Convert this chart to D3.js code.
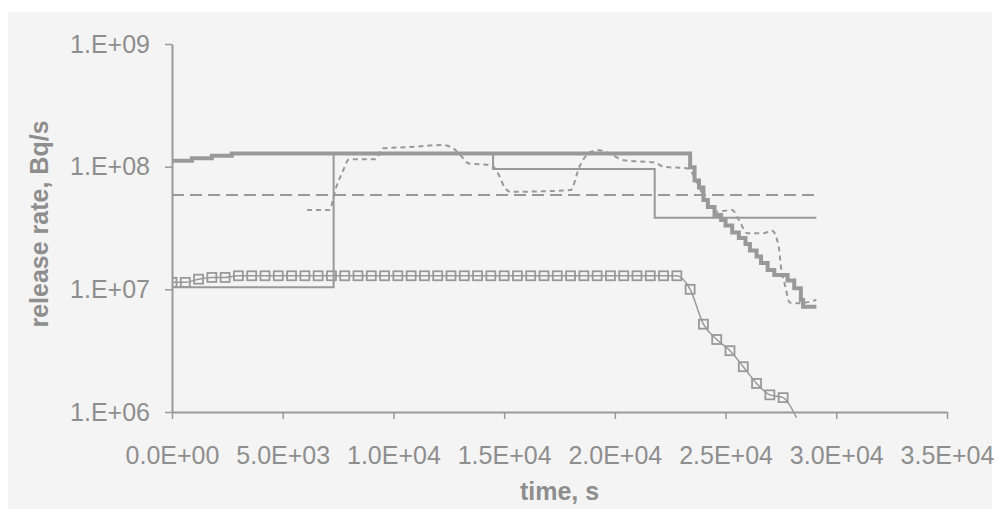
<!DOCTYPE html>
<html>
<head>
<meta charset="utf-8">
<script src="https://cdn.jsdelivr.net/npm/d3@7"></script>
<style>
  body { margin: 0; background: #ffffff; }
  #chart text { font-family: "Liberation Sans", Arial, sans-serif; fill: #8e8e8e; }
</style>
</head>
<body>
<div id="chart"></div>
<script>
// *** data (time in s, rate in Bq/s)
var xTicks = [0, 5000, 10000, 15000, 20000, 25000, 30000, 35000];
var xTickLabels = ["0.0E+00", "5.0E+03", "1.0E+04", "1.5E+04", "2.0E+04", "2.5E+04", "3.0E+04", "3.5E+04"];
var yTicks = [1e6, 1e7, 1e8, 1e9];
var yTickLabels = ["1.E+06", "1.E+07", "1.E+08", "1.E+09"];

// thick stair line
var thickTime = [0, 900, 1800, 2700, 23400, 23600, 23800, 24000, 24200, 24500, 24800, 25000, 25300, 25600,
  25900, 26100, 26400, 26600, 26900, 27200, 27800, 28100, 28400, 28500, 29100];
var thickRate = [1.12e8, 1.17e8, 1.23e8, 1.28e8, 9.9e7, 7.7e7, 6.76e7, 5.35e7, 4.69e7, 4.03e7, 3.67e7, 3.31e7, 2.90e7, 2.62e7,
  2.34e7, 2.07e7, 1.85e7, 1.64e7, 1.44e7, 1.31e7, 1.18e7, 1.02e7, 8.2e6, 7.2e6, 7.2e6];

// thin step line
var stepTime = [0, 7300, 14500, 21800, 29100];
var stepRate = [1.04e7, 1.28e8, 9.55e7, 3.83e7, 3.83e7];

// constant long-dash line
var constTime = [0, 29100];
var constRate = [5.87e7, 5.87e7];

// short-dash curve
var dashTime = [6100, 7100, 7400, 7700, 8000, 9200, 9500, 10600, 12200, 12700, 13100, 13400, 14400, 14800, 15000,
  15300, 18000, 18400, 18900, 19300, 19900, 20400, 21800, 22200, 23300, 23700, 24100, 24500, 25300, 25600,
  26000, 26700, 27100, 27400, 27500, 27700, 27900, 28300, 29100];
var dashRate = [4.43e7, 4.43e7, 6.69e7, 9.04e7, 1.15e8, 1.15e8, 1.41e8, 1.44e8, 1.50e8, 1.41e8, 1.20e8, 1.06e8, 1.03e8, 8.28e7, 6.86e7,
  6.24e7, 6.44e7, 9.98e7, 1.32e8, 1.36e8, 1.24e8, 1.13e8, 1.08e8, 9.98e7, 9.68e7, 7.48e7, 5.35e7, 4.29e7, 4.43e7, 3.67e7,
  2.86e7, 2.86e7, 3.01e7, 2.22e7, 1.53e7, 1.05e7, 7.8e6, 7.69e6, 8.2e6];

// square marker series
var sqTime = [0, 600, 1200, 1800, 2400, 3000, 3600, 4200, 4800, 5400, 6000, 6600, 7200, 7800, 8400, 9000,
  9600, 10200, 10800, 11400, 12000, 12600, 13200, 13800, 14400, 15000, 15600, 16200, 16800, 17400, 18000,
  18600, 19200, 19800, 20400, 21000, 21600, 22200, 22800, 23400, 24000, 24600, 25200, 25800, 26400, 27000,
  27600, 28200];
var sqRate = [1.14e7, 1.14e7, 1.21e7, 1.25e7, 1.25e7, 1.29e7, 1.29e7, 1.29e7, 1.29e7, 1.29e7, 1.29e7, 1.29e7, 1.29e7, 1.29e7, 1.29e7, 1.29e7,
  1.29e7, 1.29e7, 1.29e7, 1.29e7, 1.29e7, 1.29e7, 1.29e7, 1.29e7, 1.29e7, 1.29e7, 1.29e7, 1.29e7, 1.29e7, 1.29e7, 1.29e7,
  1.29e7, 1.29e7, 1.29e7, 1.29e7, 1.29e7, 1.29e7, 1.29e7, 1.29e7, 1.0e7, 5.2e6, 3.9e6, 3.16e6, 2.34e6, 1.71e6, 1.38e6,
  1.31e6, 9.0e5];

function zip(t, v) { return t.map(function(d, i) { return { t: d, v: v[i] }; }); }

// *** Set up svg
var margin = { top: 44, right: 53, bottom: 107, left: 172 };
var width = 1000 - margin.left - margin.right,
    height = 519 - margin.top - margin.bottom;
var grey = "#999999";

var root = d3.select("#chart").append("svg")
  .attr("width", 1000)
  .attr("height", 519);

// chart area background
root.append("rect")
  .attr("x", 8).attr("y", 12)
  .attr("width", 984).attr("height", 497)
  .attr("fill", "#f4f4f4");

var svg = root.append("g")
  .attr("transform", "translate(" + margin.left + "," + margin.top + ")");

var x = d3.scaleLinear().domain([0, 35000]).range([0, width]);
var y = d3.scaleLog().domain([1e6, 1e9]).range([height, 0]);

svg.append("defs").append("clipPath")
  .attr("id", "clip")
  .append("rect")
  .attr("x", 0).attr("y", -10)
  .attr("width", width).attr("height", height + 16);

// x axis
var xAxis = svg.append("g")
  .attr("transform", "translate(0," + height + ")")
  .call(d3.axisBottom(x).tickValues(xTicks).tickFormat(function(d, i) { return xTickLabels[i]; })
    .tickSize(7).tickSizeOuter(0).tickPadding(27));
// y axis
var yAxis = svg.append("g")
  .call(d3.axisLeft(y).tickValues(yTicks).tickFormat(function(d, i) { return yTickLabels[i]; })
    .tickSize(7).tickSizeOuter(0).tickPadding(15));

[xAxis, yAxis].forEach(function(a) {
  a.select(".domain").attr("stroke", grey).attr("stroke-width", 2);
  a.selectAll(".tick line").attr("stroke", grey).attr("stroke-width", 1.5);
  a.selectAll(".tick text").style("font-size", "25px").attr("fill", "#8e8e8e");
});

// axis titles
svg.append("text")
  .attr("x", width / 2)
  .attr("y", height + 88)
  .style("text-anchor", "middle")
  .style("font-size", "25px")
  .style("font-weight", "bold")
  .text("time, s");

svg.append("text")
  .attr("transform", "rotate(-90)")
  .attr("x", -(224 - margin.top))
  .attr("y", 48 - margin.left)
  .style("text-anchor", "middle")
  .style("font-size", "25px")
  .style("font-weight", "bold")
  .text("release rate, Bq/s");

var plot = svg.append("g").attr("clip-path", "url(#clip)");

var stepLine = d3.line().x(function(d) { return x(d.t); }).y(function(d) { return y(d.v); }).curve(d3.curveStepAfter);
var smoothLine = d3.line().x(function(d) { return x(d.t); }).y(function(d) { return y(d.v); }).curve(d3.curveMonotoneX);
var straight = d3.line().x(function(d) { return x(d.t); }).y(function(d) { return y(d.v); });

plot.append("path")
  .datum(zip(constTime, constRate))
  .attr("d", straight)
  .attr("fill", "none").attr("stroke", grey).attr("stroke-width", 2)
  .attr("stroke-dasharray", "12,6");

plot.append("path")
  .datum(zip(stepTime, stepRate))
  .attr("d", stepLine)
  .attr("fill", "none").attr("stroke", grey).attr("stroke-width", 2);

plot.append("path")
  .datum(zip(dashTime, dashRate))
  .attr("d", smoothLine)
  .attr("fill", "none").attr("stroke", grey).attr("stroke-width", 2)
  .attr("stroke-dasharray", "5,4");

var sqData = zip(sqTime, sqRate);
plot.append("path")
  .datum(sqData)
  .attr("d", smoothLine)
  .attr("fill", "none").attr("stroke", grey).attr("stroke-width", 1.5);

plot.selectAll(".sq")
  .data(sqData.filter(function(d) { return d.v >= 1e6; }))
  .enter().append("rect")
  .attr("class", "sq")
  .attr("x", function(d) { return x(d.t) - 4.5; })
  .attr("y", function(d) { return y(d.v) - 4.5; })
  .attr("width", 9).attr("height", 9)
  .attr("fill", "none").attr("stroke", grey).attr("stroke-width", 1.8);

plot.append("path")
  .datum(zip(thickTime, thickRate))
  .attr("d", stepLine)
  .attr("fill", "none").attr("stroke", grey).attr("stroke-width", 4);
</script>
</body>
</html>
